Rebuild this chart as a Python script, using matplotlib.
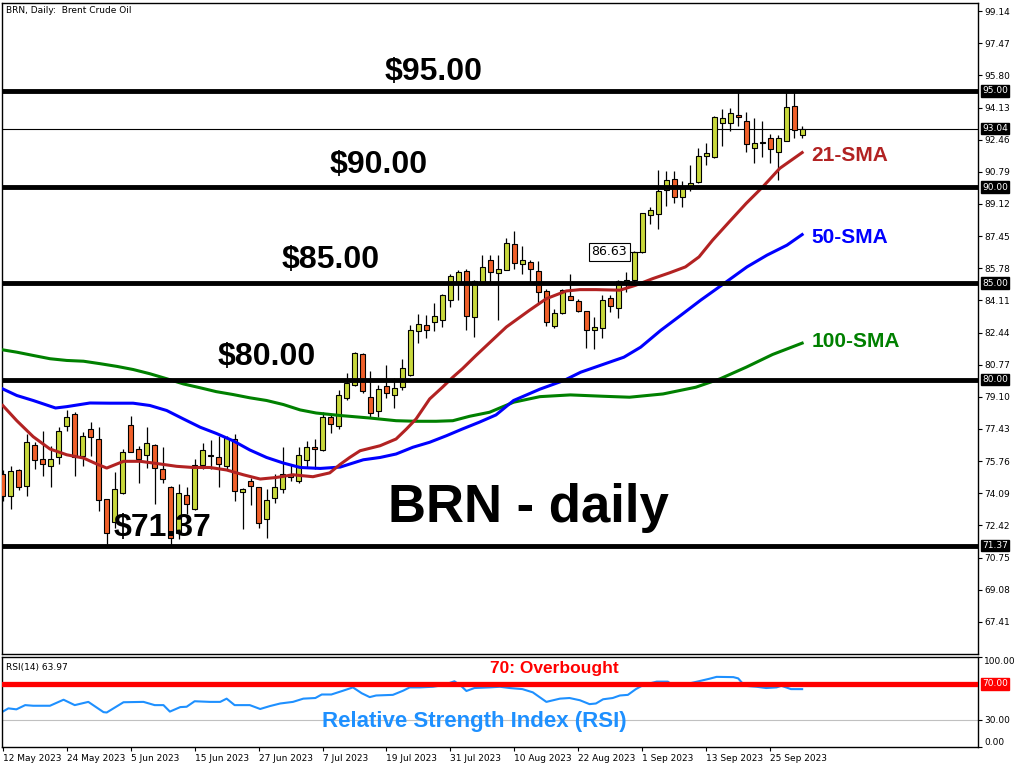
import numpy as np
import pandas as pd
import matplotlib
matplotlib.use("Agg")
import matplotlib.pyplot as plt
import matplotlib.transforms as mtransforms

# ---- data ----
dates = pd.bdate_range("2023-05-12", "2023-09-29")

opens = [75.09, 73.96, 75.30, 74.48, 76.60, 75.87, 75.52, 75.99, 77.61, 78.21,
         76.04, 77.43, 76.91, 73.79, 72.60, 74.13, 77.64, 76.39, 76.10, 76.60,
         75.35, 74.39, 72.05, 74.01, 73.27, 75.56, 76.02, 75.99, 75.52, 76.91,
         74.15, 74.74, 74.43, 72.75, 73.84, 74.31, 75.09, 74.74, 75.82, 76.51,
         76.34, 78.03, 77.61, 79.03, 79.69, 81.34, 79.11, 78.35, 79.64, 79.20,
         79.60, 80.26, 82.52, 82.85, 82.99, 83.11, 84.11, 85.07, 85.64, 83.25,
         85.07, 86.23, 85.54, 85.71, 87.03, 86.02, 86.08, 85.62, 84.58, 82.76,
         83.46, 84.32, 84.06, 83.54, 82.59, 82.69, 84.25, 83.73, 85.02, 85.15,
         86.63, 88.54, 88.59, 89.84, 90.40, 89.46, 90.05, 90.24, 91.61, 91.54,
         93.35, 93.31, 93.75, 93.43, 92.01, 92.32, 92.53, 91.80, 92.41, 94.22,
         92.71]
highs = [75.30, 75.52, 75.35, 77.17, 76.74, 77.35, 76.56, 77.52, 78.42, 78.30,
         77.26, 77.78, 77.52, 73.79, 75.18, 76.39, 78.13, 76.56, 77.52, 76.65,
         76.48, 74.48, 74.57, 74.43, 75.87, 76.69, 76.86, 77.09, 77.09, 77.17,
         74.36, 74.88, 74.43, 74.31, 75.09, 76.51, 75.61, 76.48, 76.82, 76.91,
         78.30, 78.21, 79.43, 80.35, 81.42, 81.37, 80.42, 79.72, 80.73, 80.09,
         81.04, 82.85, 83.42, 83.33, 83.98, 84.46, 85.50, 85.68, 85.76, 85.16,
         86.46, 86.46, 86.46, 87.33, 87.71, 86.93, 86.20, 86.16, 84.72, 83.68,
         84.72, 85.47, 84.20, 83.54, 83.25, 84.37, 84.38, 85.16, 85.59, 86.69,
         88.65, 88.97, 90.88, 90.85, 90.85, 90.33, 91.14, 92.01, 92.31, 93.69,
         94.04, 94.09, 94.95, 93.92, 93.57, 93.43, 92.76, 92.71, 94.95, 94.95,
         93.17]
lows = [73.70, 73.27, 74.25, 73.96, 75.35, 75.00, 74.39, 75.61, 77.35, 75.00,
        75.52, 76.04, 73.18, 71.44, 72.30, 74.05, 76.22, 74.60, 75.40, 73.53,
        74.60, 71.37, 71.70, 73.01, 73.21, 75.35, 75.35, 74.43, 75.30, 73.70,
        72.22, 73.49, 72.28, 71.79, 73.56, 74.13, 74.74, 74.60, 75.44, 75.35,
        76.30, 77.21, 77.43, 78.91, 79.64, 79.29, 78.04, 78.07, 79.03, 78.51,
        79.46, 80.16, 81.89, 82.17, 82.52, 82.73, 83.77, 84.11, 82.55, 82.20,
        85.00, 85.07, 83.11, 85.68, 85.76, 85.47, 85.07, 83.94, 82.76, 82.67,
        83.42, 84.11, 83.51, 81.63, 81.60, 82.17, 83.51, 83.21, 84.55, 85.07,
        86.58, 88.07, 87.84, 89.01, 89.15, 88.94, 89.81, 90.19, 91.14, 91.49,
        92.13, 92.93, 93.17, 91.84, 91.23, 91.58, 91.23, 90.36, 92.41, 92.53,
        92.57]
closes = [73.96, 75.26, 74.39, 76.74, 75.84, 75.61, 75.87, 77.35, 78.07, 75.96,
          77.09, 77.03, 73.73, 72.05, 74.31, 76.25, 76.25, 75.87, 76.72, 75.40,
          74.81, 71.79, 74.08, 73.53, 75.56, 76.34, 76.05, 75.61, 76.96, 74.22,
          74.29, 74.46, 72.52, 73.75, 74.43, 75.09, 74.92, 76.10, 76.51, 76.39,
          78.07, 77.69, 79.20, 79.83, 81.37, 79.41, 78.26, 79.51, 79.31, 79.57,
          80.61, 82.59, 82.90, 82.59, 83.30, 84.37, 85.37, 85.59, 83.32, 85.10,
          85.82, 85.59, 85.76, 87.07, 86.06, 86.20, 85.76, 84.53, 82.99, 83.47,
          84.67, 84.15, 83.56, 82.55, 82.71, 84.11, 83.84, 85.10, 85.16, 86.63,
          88.63, 88.80, 89.79, 90.36, 89.46, 89.93, 90.22, 91.61, 91.75, 93.63,
          93.57, 93.83, 93.63, 92.22, 92.27, 92.30, 91.96, 92.53, 94.15, 92.97,
          93.04]

sma21_x = [0, 1.75, 3.8, 5.9, 8, 10.1, 11.75, 13, 15.1, 17.2, 19.7, 21.75, 23.8,
           25.9, 28, 30.1, 32.2, 34.2, 36.3, 38.8, 40.9, 42.2, 43.4, 44.7, 47.2,
           49.2, 50.5, 51.7, 53.4, 55, 56.3, 57.5, 59.2, 63, 65.9, 68, 70.5, 72.2,
           74.2, 77.2, 79.2, 81.3, 83.4, 85.4, 87.1, 88.8, 90.9, 93, 95.1, 97.2, 100]
sma21_v = [78.65, 77.86, 77.03, 76.39, 76.09, 75.92, 75.61, 75.40, 75.75, 75.75,
           75.61, 75.49, 75.43, 75.43, 75.30, 75.05, 74.83, 74.91, 75.05, 74.95,
           75.15, 75.59, 75.95, 76.30, 76.56, 76.91, 77.43, 77.95, 78.99, 79.60,
           80.12, 80.56, 81.25, 82.73, 83.60, 84.20, 84.60, 84.67, 84.67, 84.64,
           84.90, 85.24, 85.54, 85.85, 86.37, 87.24, 88.20, 89.15, 90.02, 90.97,
           91.79]

sma50_x = [0, 1.75, 3.8, 6.6, 8, 10.9, 13.4, 16.3, 18.4, 20.5, 22.6, 24.7, 26.7,
           28.8, 30.9, 33, 35.1, 37.2, 39.7, 42.2, 45.1, 47.2, 49.2, 51.3, 53.4,
           55.5, 57.5, 59.6, 61.7, 63.9, 67.2, 70.2, 72.3, 77.7, 79.8, 82.3, 84.8,
           87.3, 90.2, 93.1, 95.6, 98.1, 100]
sma50_v = [79.51, 79.17, 78.91, 78.52, 78.59, 78.78, 78.77, 78.77, 78.65, 78.39,
           77.95, 77.52, 77.20, 76.82, 76.34, 75.95, 75.66, 75.43, 75.38, 75.45,
           75.83, 75.95, 76.13, 76.48, 76.74, 77.08, 77.43, 77.78, 78.16, 78.91,
           79.50, 79.95, 80.38, 81.16, 81.68, 82.55, 83.33, 84.12, 84.98, 85.85,
           86.46, 86.98, 87.53]

sma100_x = [0, 1.75, 3.8, 5.9, 8, 10.1, 12.2, 14.3, 16.3, 18.4, 20.5, 22.6, 24.7,
            26.7, 28.8, 30.9, 33, 35.1, 37.2, 39.2, 42.2, 45.9, 49.2, 51.7, 54.2,
            56.3, 58.4, 60.9, 63.9, 67.2, 71, 75.1, 78.4, 82.6, 86.7, 89.7, 93,
            96.3, 100]
sma100_v = [81.54, 81.42, 81.25, 81.08, 80.99, 80.95, 80.82, 80.68, 80.52, 80.30,
            80.04, 79.77, 79.57, 79.37, 79.22, 79.05, 78.91, 78.70, 78.42, 78.26,
            78.13, 78.00, 77.86, 77.83, 77.83, 77.86, 78.09, 78.30, 78.82, 79.11,
            79.20, 79.13, 79.08, 79.25, 79.60, 80.03, 80.64, 81.30, 81.89]

rsi_x = [0, 0.7, 1.7, 2.8, 3.8, 5.9, 7.6, 9, 10.7, 12.6, 13, 15.1, 17.6, 19, 20.1,
         20.9, 22.2, 23, 24, 25.9, 27.2, 28, 29, 30.9, 32.2, 33.4, 34.7, 36.3, 37.6,
         39.1, 39.9, 41.1, 42.6, 43.8, 44.9, 45.9, 46.7, 48.8, 50.1, 50.9, 52.2,
         53.8, 55.1, 56.5, 57.4, 58, 59, 60.9, 62.2, 63.4, 65, 66.3, 68, 69.7, 70.9,
         72.2, 73.4, 74.2, 75.1, 76.3, 77.2, 78.2, 79.2, 80.1, 81.8, 83.2, 83.8,
         85.5, 87.2, 88.4, 89.3, 91.4, 92, 92.8, 94.3, 95.5, 96.8, 97.4, 98.6, 100]
rsi_v = [39.0, 42.6, 41.5, 46.2, 45.5, 45.5, 52.2, 46.2, 49.8, 38.4, 38.0, 49.4,
         49.8, 46.2, 46.2, 39.0, 44.0, 44.4, 50.5, 49.8, 49.8, 53.4, 46.2, 46.2,
         41.9, 45.1, 48.0, 49.8, 53.4, 54.1, 58.0, 58.0, 62.3, 65.9, 59.4, 55.1,
         56.9, 57.6, 62.3, 65.9, 65.9, 66.6, 68.4, 72.7, 67.0, 61.9, 65.2, 65.9,
         66.6, 65.2, 64.0, 60.4, 49.8, 53.4, 54.1, 51.6, 47.3, 48.0, 52.7, 54.1,
         56.9, 57.6, 64.0, 68.4, 72.3, 72.3, 68.4, 69.5, 73.0, 75.5, 77.6, 77.3,
         75.9, 67.7, 66.6, 65.2, 65.9, 67.7, 64.0, 63.97]

levels = [95.00, 90.00, 85.00, 80.00, 71.37]
level_text = ["$95.00", "$90.00", "$85.00", "$80.00", "$71.37"]
last_price = 93.04
marked_close = 86.63
price_ticks = [99.14, 97.47, 95.80, 94.13, 92.46, 90.79, 89.12, 87.45, 85.78, 84.11,
               82.44, 80.77, 79.10, 77.43, 75.76, 74.09, 72.42, 70.75, 69.08, 67.41]
rsi_ticks = [100, 30, 0]

BULL = "#c8d83c"
BEAR = "#f0602a"
BOLD = ["Liberation Sans", "DejaVu Sans"]

fig = plt.figure(figsize=(10.24, 7.68), dpi=100)
W, H = 1024, 768
ax = fig.add_axes([2 / W, 1 - 654 / H, 976 / W, 651 / H])
rax = fig.add_axes([2 / W, 1 - 746.7 / H, 976 / W, 90 / H])

x = np.arange(len(opens))
o = np.array(opens)
c = np.array(closes)
up = c >= o
body = np.maximum(np.abs(c - o), 0.04)

ax.vlines(x, lows, highs, color="black", lw=0.9, zorder=2)
ax.bar(x[up], body[up], bottom=o[up], width=0.62, color=BULL,
       edgecolor="black", lw=0.8, zorder=3)
ax.bar(x[~up], body[~up], bottom=c[~up], width=0.62, color=BEAR,
       edgecolor="black", lw=0.8, zorder=3)

ax.plot(sma100_x, sma100_v, color="#008000", lw=2.2, zorder=4)
ax.plot(sma50_x, sma50_v, color="#0000ff", lw=2.2, zorder=4)
ax.plot(sma21_x, sma21_v, color="#b22222", lw=2.2, zorder=4)

for lv in levels:
    ax.axhline(lv, color="black", lw=3.5, zorder=5)
ax.axhline(last_price, color="black", lw=0.8, zorder=1)

# level captions
cap_pos = [(47.8, 95.97), (40.9, 91.14), (34.9, 86.2), (26.9, 81.17), (13.8, 72.28)]
for (tx, ty), t in zip(cap_pos, level_text):
    ax.text(tx, ty, t, fontsize=23, fontweight="bold", family=BOLD,
            va="center", ha="left", zorder=6)
ax.text(48.2, 73.32, "BRN - daily", fontsize=38, fontweight="bold", family=BOLD,
        va="center", ha="left", zorder=6)

ax.text(101.2, 91.66, "21-SMA", color="#b22222", fontsize=15, fontweight="bold",
        family=BOLD, va="center")
ax.text(101.2, 87.40, "50-SMA", color="#0000ff", fontsize=15, fontweight="bold",
        family=BOLD, va="center")
ax.text(101.2, 81.95, "100-SMA", color="#008000", fontsize=15, fontweight="bold",
        family=BOLD, va="center")

# 86.63 marker
ax.plot([78.1, 79.7], [marked_close, marked_close], color="black", lw=0.8, zorder=6)
ax.text(78.1, marked_close, f"{marked_close:.2f}", fontsize=9, ha="right", va="center",
        zorder=7, bbox=dict(boxstyle="square,pad=0.2", fc="white", ec="black", lw=0.8))

ax.text(0.004, 0.995, "BRN, Daily:  Brent Crude Oil", transform=ax.transAxes,
        fontsize=6.5, va="top", ha="left")

ax.set_xlim(-0.1, 122)
ax.set_ylim(65.74, 99.56)
ax.set_xticks([])
ax.yaxis.tick_right()
ax.set_yticks(price_ticks)
ax.set_yticklabels([f"{v:.2f}" for v in price_ticks])
ax.tick_params(axis="y", direction="out", length=3, labelsize=6.5, pad=1.5)

trans = mtransforms.blended_transform_factory(ax.transAxes, ax.transData)
for lv in levels + [last_price]:
    ax.text(1.004, lv, f"{lv:.2f}", transform=trans, color="white", fontsize=6.5,
            va="center", ha="left", zorder=8, clip_on=False,
            bbox=dict(boxstyle="square,pad=0.15", fc="black", ec="black"))

# RSI pane
rax.plot(rsi_x, rsi_v, color="#1e90ff", lw=1.5, zorder=2)
rax.axhline(70, color="red", lw=3.8, zorder=3)
rax.axhline(30, color="#c0c0c0", lw=0.8, zorder=1)
rax.text(0.004, 0.93, f"RSI(14) {rsi_v[-1]:.2f}", transform=rax.transAxes,
         fontsize=6.5, va="top", ha="left")
rax.text(61, 87.4, "70: Overbought", color="red", fontsize=12.5, fontweight="bold",
         family=BOLD, va="center", ha="left")
rax.text(39.9, 28.0, "Relative Strength Index (RSI)", color="#1e90ff", fontsize=16,
         fontweight="bold", family=BOLD, va="center", ha="left", zorder=4)

rax.set_xlim(-0.1, 122)
rax.set_ylim(0, 100)
rax.yaxis.tick_right()
rax.set_yticks(rsi_ticks)
rax.set_yticklabels([f"{v:.2f}" for v in rsi_ticks])
labs = rax.get_yticklabels()
labs[0].set_va("top")
labs[2].set_va("bottom")
rax.tick_params(axis="y", direction="out", length=3, labelsize=6.5, pad=1.5)
rtrans = mtransforms.blended_transform_factory(rax.transAxes, rax.transData)
rax.text(1.004, 70, "70.00", transform=rtrans, color="white", fontsize=6.5,
         va="center", ha="left", clip_on=False,
         bbox=dict(boxstyle="square,pad=0.15", fc="red", ec="red"))

tick_pos = list(range(0, len(dates), 8))
rax.set_xticks(tick_pos)
rax.set_xticklabels([f"{dates[i].day} {dates[i].strftime('%b %Y')}" for i in tick_pos],
                    ha="left")
rax.tick_params(axis="x", direction="out", length=3, labelsize=6.5, pad=2)

for a in (ax, rax):
    for s in a.spines.values():
        s.set_color("black")
        s.set_linewidth(1)

fig.savefig("out.png", dpi=100)
